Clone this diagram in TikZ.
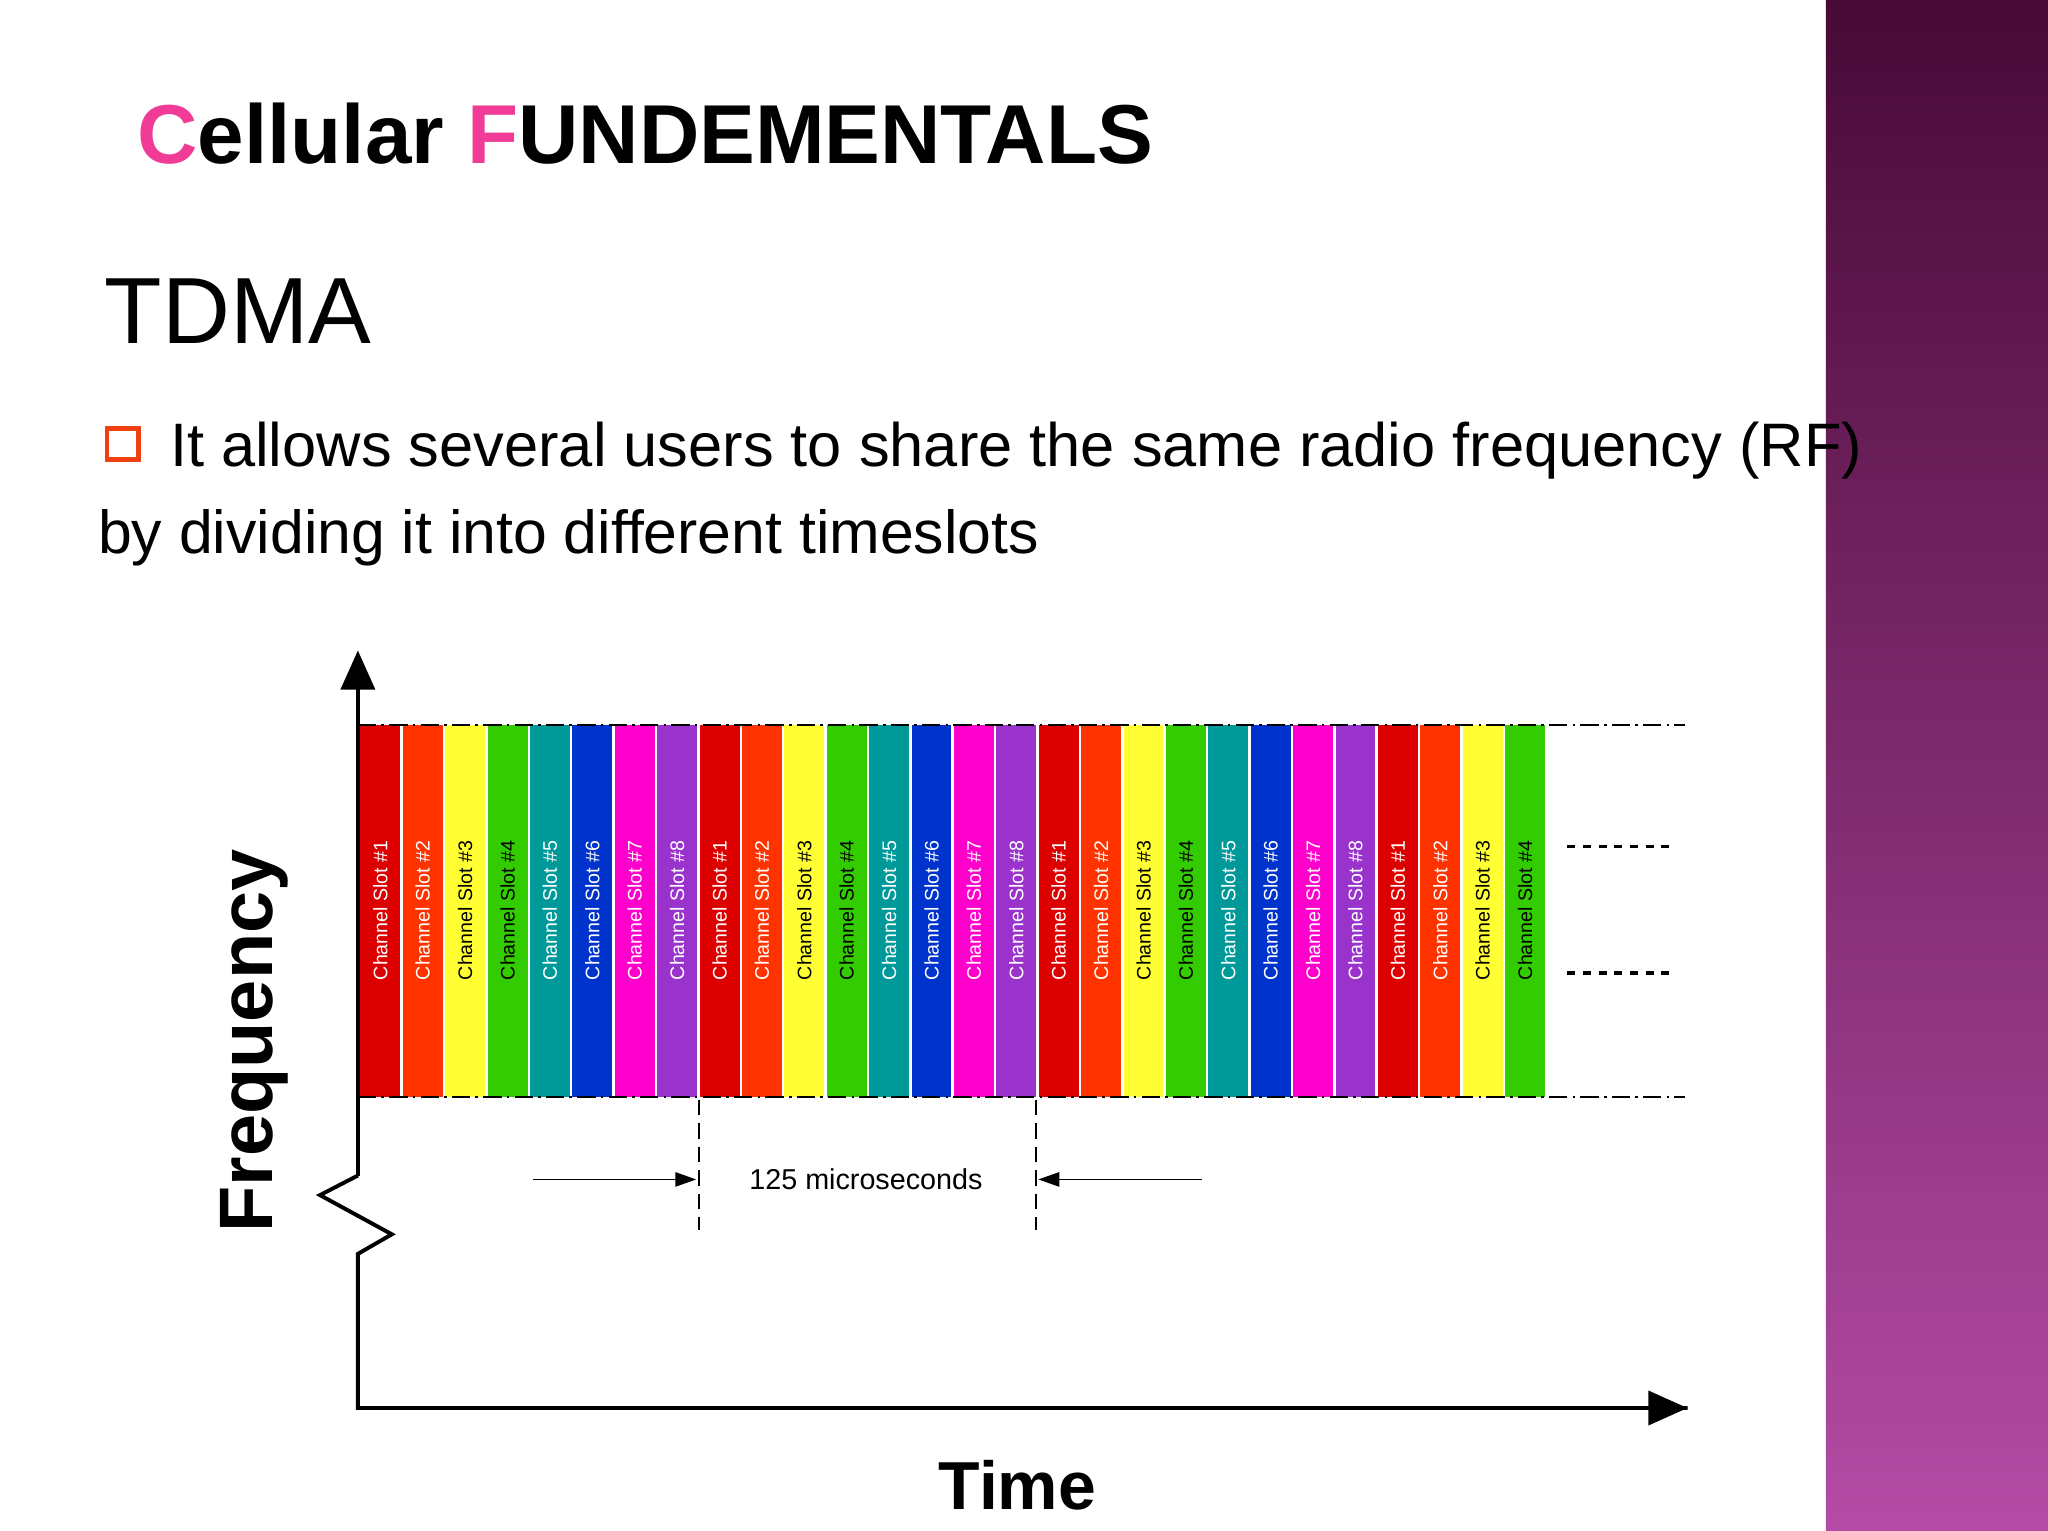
\documentclass[tikz,border=0pt]{standalone}
\usepackage{fontspec}
\setmainfont{Liberation Sans}
\usetikzlibrary{arrows.meta}
\definecolor{pinkc}{HTML}{F03C96}
\definecolor{cA}{HTML}{DD0000}\definecolor{cB}{HTML}{FF3300}\definecolor{cC}{HTML}{FFFF33}\definecolor{cD}{HTML}{33CC00}
\definecolor{cE}{HTML}{009999}\definecolor{cF}{HTML}{0033CC}\definecolor{cG}{HTML}{FF00CC}\definecolor{cH}{HTML}{9933CC}
\definecolor{bulc}{HTML}{F04010}
\tikzset{slotlbl/.style={rotate=90,font=\fontsize{15}{15}\selectfont,inner sep=0pt},
 dd/.style={dash pattern=on 14pt off 4pt on 2pt off 4pt,line width=1.5pt},
 dimarrow/.style={-{Triangle[length=16pt,width=11pt]},line width=1.2pt}}
\begin{document}
\begin{tikzpicture}[x=1pt,y=-1pt]
\useasboundingbox (0,0) rectangle (1568,1172);
\fill[white] (0,0) rectangle (1568,1172);
\shade[top color={rgb,255:red,72;green,10;blue,55}, bottom color={rgb,255:red,180;green,75;blue,165}] (1398,0) rectangle (1568,1172);
\node[anchor=base west,inner sep=0pt,font=\fontsize{64}{64}\selectfont\bfseries] (title) at (105,125) {\textcolor{pinkc}{C}ellular \textcolor{pinkc}{F}UNDEMENTALS};
\node[anchor=base west,inner sep=0pt,font=\fontsize{72}{72}\selectfont] (tdma) at (80,263) {TDMA};
\node[draw=bulc,line width=3.5pt,minimum size=24pt,inner sep=0pt] (bul) at (94,340) {};
\node[anchor=base west,inner sep=0pt,font=\fontsize{47}{47}\selectfont] (l1) at (130,357) {It allows several users to share the same radio frequency (RF)};
\node[anchor=base west,inner sep=0pt,font=\fontsize{46.5}{46.5}\selectfont] (l2) at (75,424) {by dividing it into different timeslots};
% bars
\foreach \i in {0,...,27}{
 \pgfmathtruncatemacro{\k}{mod(\i,8)+1}
 \ifcase\k\or\def\cc{cA}\def\tc{white}\or\def\cc{cB}\def\tc{white}\or\def\cc{cC}\def\tc{black}\or\def\cc{cD}\def\tc{black}\or\def\cc{cE}\def\tc{white}\or\def\cc{cF}\def\tc{white}\or\def\cc{cG}\def\tc{white}\or\def\cc{cH}\def\tc{white}\fi
 \fill[\cc] (276+\i*32.46,555) rectangle (276+\i*32.46+30.5,840);
 \node[slotlbl,text=\tc] (s\i) at (276+\i*32.46+15.2,697) {Channel Slot \#\k};
}
\draw[dd] (274,555) -- (1290,555);
\draw[dd] (274,840) -- (1290,840);
\draw[line width=2.5pt,dash pattern=on 6pt off 6pt] (1200,648) -- (1278,648);
\draw[line width=2.5pt,dash pattern=on 6pt off 6pt] (1200,745) -- (1278,745);
% axes
\coordinate (ytop) at (274,498);
\coordinate (xend) at (1292,1078);
\draw[line width=3pt,-{Triangle[length=30pt,width=26pt]}] (274,900) -- (ytop);
\draw[line width=3pt] (274,900) -- (245,915) -- (300,945) -- (274,960) -- (274,1078) -- (xend);
\draw[line width=3pt,-{Triangle[length=30pt,width=26pt]}] (274,1078) -- (xend);
% dimension
\coordinate (va) at (535,842); \coordinate (vb) at (535,942);
\coordinate (vc) at (793,842); \coordinate (vd) at (793,942);
\draw[line width=1.5pt,dash pattern=on 12pt off 6pt] (va) -- (vb);
\draw[line width=1.5pt,dash pattern=on 12pt off 6pt] (vc) -- (vd);
\coordinate (a1) at (408,903); \coordinate (a2) at (533,903);
\coordinate (b1) at (920,903); \coordinate (b2) at (795,903);
\draw[dimarrow] (a1) -- (a2);
\draw[dimarrow] (b1) -- (b2);
\node[font=\fontsize{22}{22}\selectfont] (mic) at (663,903) {125 microseconds};
\node[rotate=90,font=\fontsize{58}{58}\selectfont\bfseries] (freq) at (195,797) {Frequency};
\node[font=\fontsize{52}{52}\selectfont\bfseries] (time) at (779,1137) {Time};
\end{tikzpicture}
\end{document}
